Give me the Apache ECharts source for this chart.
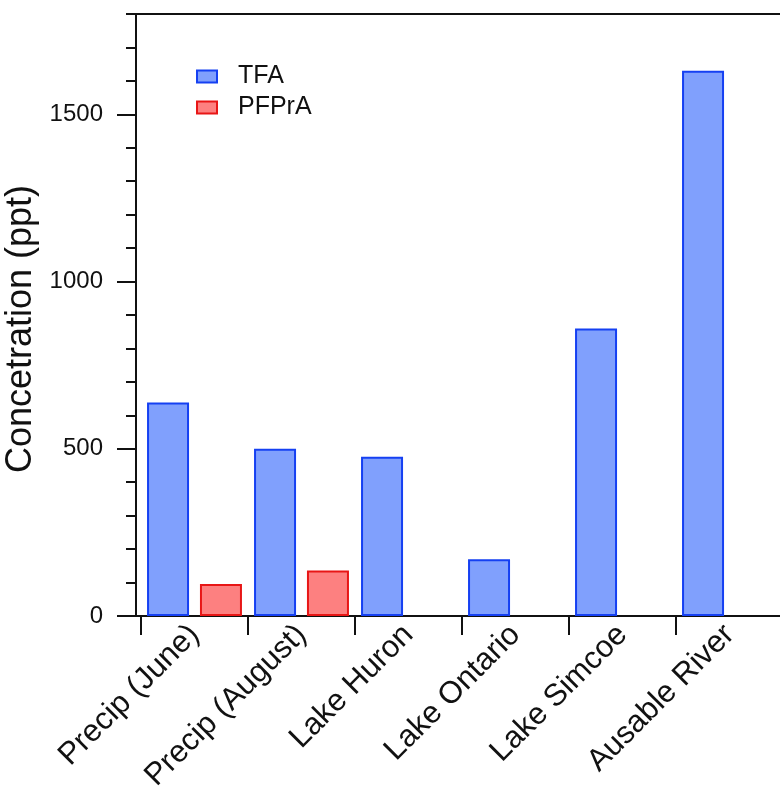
<!DOCTYPE html>
<html>
<head>
<meta charset="utf-8">
<style>
  html, body { margin: 0; padding: 0; background: #fff; }
  #chart { width: 780px; height: 787px; }
</style>
<script src="https://cdn.jsdelivr.net/npm/echarts@6/dist/echarts.min.js"></script>
</head>
<body>
<div id="chart"></div>
<script>
// Sites sampled and measured concentrations (ppt)
const categories = ['Precip (June)', 'Precip (August)', 'Lake Huron', 'Lake Ontario', 'Lake Simcoe', 'Ausable River'];
const tfaValues = [638, 500, 476, 170, 860, 1630];
const pfpraValues = [96, 136, null, null, null, null];
const majorTicks = [0, 500, 1000, 1500];
const minorTicks = [100, 200, 300, 400, 600, 700, 800, 900, 1100, 1200, 1300, 1400, 1600, 1700, 1800];

const FONT = 'Liberation Sans, Arial, Helvetica, sans-serif';
const AXIS_COLOR = '#111';
const Y_MAX = 1800;

const chart = echarts.init(document.getElementById('chart'), null, { renderer: 'canvas' });

chart.setOption({
  animation: false,
  backgroundColor: '#fff',
  textStyle: { fontFamily: FONT },
  grid: [
    // frame: left value axis plus bottom and top rules
    { left: 136, right: 0, top: 14, bottom: 171, outerBoundsMode: 'none', containLabel: false },
    // plotting area for the category bands
    { left: 141, width: 642, top: 14, bottom: 171, outerBoundsMode: 'none', containLabel: false }
  ],
  legend: {
    orient: 'vertical',
    left: 196,
    top: 64,
    padding: 0,
    icon: 'rect',
    itemWidth: 20,
    itemHeight: 12,
    itemGap: 6,
    textStyle: { fontFamily: FONT, fontSize: 25, color: '#111', lineHeight: 22, padding: [0, 0, 0, 16] },
    data: ['TFA', 'PFPrA']
  },
  xAxis: [
    {
      gridIndex: 0, type: 'value', min: 0, max: 1, position: 'bottom',
      axisLine: { show: true, onZero: false, lineStyle: { color: AXIS_COLOR, width: 2 } },
      axisTick: { show: false }, axisLabel: { show: false }, splitLine: { show: false }
    },
    {
      gridIndex: 0, type: 'value', min: 0, max: 1, position: 'top',
      axisLine: { show: true, onZero: false, lineStyle: { color: AXIS_COLOR, width: 2 } },
      axisTick: { show: false }, axisLabel: { show: false }, splitLine: { show: false }
    },
    {
      gridIndex: 1, type: 'category', data: categories, position: 'bottom',
      boundaryGap: true,
      axisLine: { show: false, onZero: false },
      axisTick: { show: true, alignWithLabel: false, length: 19, lineStyle: { color: AXIS_COLOR, width: 2 } },
      axisLabel: {
        rotate: 45, margin: 14, fontSize: 31, color: '#111', fontFamily: FONT, interval: 0
      },
      splitLine: { show: false }
    }
  ],
  yAxis: [
    {
      gridIndex: 0, type: 'value', min: 0, max: Y_MAX,
      name: 'Concetration (ppt)',
      nameLocation: 'middle',
      nameGap: 80,
      nameTextStyle: { fontSize: 36, color: '#111', fontFamily: FONT, padding: [0, 28, 0, 0] },
      axisLine: { show: true, onZero: false, lineStyle: { color: AXIS_COLOR, width: 2 } },
      axisTick: { show: true, length: 19, customValues: majorTicks, lineStyle: { color: AXIS_COLOR, width: 2 } },
      axisLabel: {
        show: true, customValues: majorTicks, margin: 33, fontSize: 24, color: '#111', fontFamily: FONT,
        formatter: (v) => String(v)
      },
      splitLine: { show: false }
    },
    {
      gridIndex: 0, type: 'value', min: 0, max: Y_MAX, position: 'left',
      axisLine: { show: false, onZero: false },
      axisTick: { show: true, length: 10, customValues: minorTicks, lineStyle: { color: AXIS_COLOR, width: 2 } },
      axisLabel: { show: false },
      splitLine: { show: false }
    },
    {
      gridIndex: 1, type: 'value', min: 0, max: Y_MAX, show: false
    }
  ],
  series: [
    {
      name: 'TFA', type: 'bar', xAxisIndex: 2, yAxisIndex: 2,
      data: tfaValues,
      barWidth: 42, barGap: '26%',
      itemStyle: { color: '#80a0fd', borderColor: '#1540f2', borderWidth: 2 }
    },
    {
      name: 'PFPrA', type: 'bar', xAxisIndex: 2, yAxisIndex: 2,
      data: pfpraValues,
      barWidth: 42, barGap: '26%',
      itemStyle: { color: '#fd8080', borderColor: '#e81616', borderWidth: 2 }
    }
  ]
});
</script>
</body>
</html>
